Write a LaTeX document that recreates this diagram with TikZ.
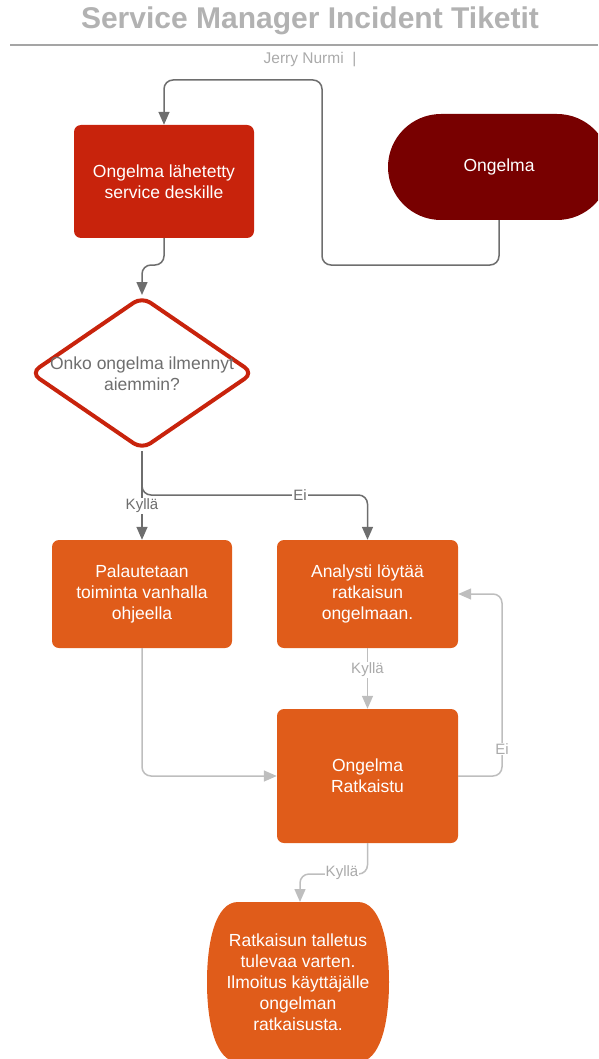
\documentclass[tikz,border=0pt]{standalone}
\usepackage{fontspec}
\setmainfont{Liberation Sans}
\usetikzlibrary{arrows.meta}
\definecolor{titlegray}{RGB}{178,178,178}
\definecolor{rulegray}{RGB}{165,165,165}
\definecolor{darkln}{RGB}{110,110,110}
\definecolor{lightln}{RGB}{190,190,190}
\definecolor{lighttxt}{RGB}{170,170,170}
\definecolor{boxred}{RGB}{200,35,12}
\definecolor{darkred}{RGB}{120,0,0}
\definecolor{boxorange}{RGB}{224,92,26}
\tikzset{
  nodefont/.style={font=\fontsize{17.5}{21}\selectfont},
  procbox/.style={fill=boxorange, rounded corners=7pt, text=white, align=center, nodefont, inner sep=0pt},
  darkconn/.style={draw=darkln, line width=1.5pt, rounded corners=9pt, -{Triangle[width=11pt,length=13pt]}},
  lightconn/.style={draw=lightln, line width=1.5pt, rounded corners=9pt, -{Triangle[width=11pt,length=13pt]}},
  darklbl/.style={fill=white, text=darkln, font=\fontsize{15}{17}\selectfont, inner sep=1pt},
  lightlbl/.style={fill=white, text=lighttxt, font=\fontsize{15}{17}\selectfont, inner sep=1pt}
}
\begin{document}
\begin{tikzpicture}[x=1pt,y=-1pt]
\useasboundingbox (0,0) rectangle (598,1059);
\begin{scope}
\clip (0,0) rectangle (598,1059);
% title
\node[text=titlegray, font=\fontsize{30}{34}\selectfont\bfseries] (title) at (310,21) {Service Manager Incident Tiketit};
\draw[rulegray, line width=2pt] (10,45) -- (598,45);
\node[text=lighttxt, font=\fontsize{15.5}{18}\selectfont] (author) at (310,60) {Jerry Nurmi\ \ |};
% nodes
\node[procbox, fill=boxred, minimum width=180pt, minimum height=113pt] (box1) at (164,181.5) {Ongelma lähetetty\\service deskille};
\node[fill=darkred, rounded corners=53pt, minimum width=222pt, minimum height=106pt] (ong) at (499,167) {};
\node[text=white, nodefont] (ongtxt) at (499,167) {Ongelma};
% diamond
\draw[draw=boxred, fill=white, line width=4pt, rounded corners=10pt] (142,297) -- (253,373) -- (142,449) -- (31,373) -- cycle;
\coordinate (diaT) at (142,295);
\coordinate (diaB) at (142,451);
\node[text=darkln, align=center, nodefont] (dia) at (142,374) {Onko ongelma ilmennyt\\aiemmin?};
\node[procbox, minimum width=180pt, minimum height=108pt] (pal) at (142,594) {Palautetaan\\toiminta vanhalla\\ohjeella};
\node[procbox, minimum width=181pt, minimum height=108pt] (ana) at (367.5,594) {Analysti löytää\\ratkaisun\\ongelmaan.};
\node[procbox, minimum width=181pt, minimum height=134pt] (rat) at (367.5,776) {Ongelma\\Ratkaistu};
% final shape
\fill[boxorange] (238,902) -- (358,902) .. controls (380,902) and (389,940) .. (389,982) .. controls (389,1024) and (380,1062) .. (358,1062) -- (238,1062) .. controls (216,1062) and (207,1024) .. (207,982) .. controls (207,940) and (216,902) .. (238,902) -- cycle;
\coordinate (finT) at (300,902);
\node[text=white, align=center, nodefont] (fin) at (298,982) {Ratkaisun talletus\\tulevaa varten.\\Ilmoitus käyttäjälle\\ongelman\\ratkaisusta.};
% connectors
\draw[darkconn] (ong.south) -- (499,265) -- (322,265) -- (322,80) -- (164,80) -- (box1.north);
\draw[darkconn] (box1.south) -- (164,265) -- (142,265) -- (diaT);
\draw[darkconn] (diaB) -- (pal.north);
\node[darklbl] (lkyl1) at (142,506) {Kyllä};
\draw[darkconn] (diaB) -- (142,495) -- (367.5,495) -- (ana.north);
\node[darklbl] (lei1) at (300,495) {Ei};
\draw[lightconn] (pal.south) -- (142,776) -- (rat.west);
\draw[lightconn] (ana.south) -- (rat.north);
\node[lightlbl] (lkyl2) at (367.5,670) {Kyllä};
\draw[lightconn] (rat.east) -- (502,776) -- (502,594) -- (ana.east);
\node[lightlbl] (lei2) at (502,749) {Ei};
\draw[lightconn] (rat.south) -- (367.5,874) -- (300,874) -- (finT);
\node[lightlbl] (lkyl3) at (342,873) {Kyllä};
\end{scope}
\end{tikzpicture}
\end{document}
